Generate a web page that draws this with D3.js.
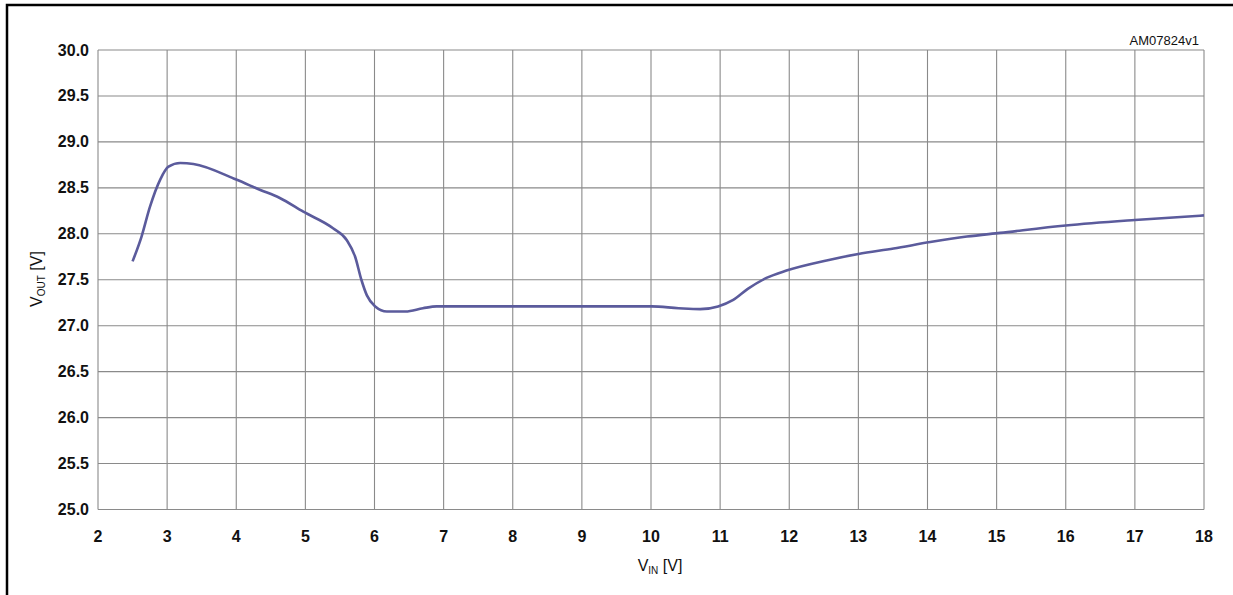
<!DOCTYPE html>
<html>
<head>
<meta charset="utf-8">
<script src="https://cdn.jsdelivr.net/npm/d3@7"></script>
<style>
  body { margin: 0; background: #fff; }
  svg { display: block; font-family: "Liberation Sans", Arial, Helvetica, sans-serif; }
</style>
</head>
<body>
<div class="vis"></div>
<script>
// V_IN [V] values
const vin = [2.5, 2.63, 2.75, 2.9, 3.02, 3.19, 3.38, 4.0, 4.34, 4.63, 4.97, 5.4, 5.6, 5.72, 5.81, 5.89, 6.01, 6.18, 6.45, 6.7, 6.9, 7.5, 8.5, 9.5, 10.01, 10.4, 10.71, 10.97, 11.19, 11.4, 11.67, 11.96, 12.54, 13.0, 13.51, 14.04, 14.57, 15.05, 16.0, 17.0, 18.0];
// V_OUT [V]
const vout = [27.7, 27.97, 28.29, 28.59, 28.73, 28.77, 28.76, 28.59, 28.48, 28.39, 28.24, 28.06, 27.93, 27.75, 27.5, 27.33, 27.21, 27.155, 27.155, 27.19, 27.21, 27.21, 27.21, 27.21, 27.21, 27.19, 27.18, 27.21, 27.28, 27.4, 27.52, 27.6, 27.71, 27.78, 27.84, 27.91, 27.97, 28.01, 28.09, 28.15, 28.2];

const xTicks = [2, 3, 4, 5, 6, 7, 8, 9, 10, 11, 12, 13, 14, 15, 16, 17, 18];
const yTicks = [25.0, 25.5, 26.0, 26.5, 27.0, 27.5, 28.0, 28.5, 29.0, 29.5, 30.0];

const W = 1233, H = 595;
const pLeft = 98, pRight = 1204, pTop = 50, pBottom = 509.5;

const svg = d3.select(".vis").append("svg")
    .attr("width", W).attr("height", H);

// frame
svg.append("path")
    .attr("d", `M7,${H + 5} V5 H${W + 5}`)
    .attr("fill", "none").attr("stroke", "#000").attr("stroke-width", 2.5);

const x = d3.scaleLinear().domain([2, 18]).range([pLeft, pRight]);
const y = d3.scaleLinear().domain([25, 30]).range([pBottom, pTop]);

// grid
svg.append("g").selectAll("line").data(xTicks).join("line")
    .attr("x1", d => x(d)).attr("x2", d => x(d))
    .attr("y1", pTop).attr("y2", pBottom)
    .attr("stroke", "#8a8a8a").attr("stroke-width", 1.1);
svg.append("g").selectAll("line").data(yTicks).join("line")
    .attr("x1", pLeft).attr("x2", pRight)
    .attr("y1", d => y(d)).attr("y2", d => y(d))
    .attr("stroke", "#8a8a8a").attr("stroke-width", 1.1);

// tick labels
svg.append("g").selectAll("text").data(yTicks).join("text")
    .attr("x", pLeft - 9).attr("y", d => y(d) + 5.5)
    .attr("text-anchor", "end")
    .style("font-size", "16px").style("font-weight", "600").attr("fill", "#111")
    .text(d => d.toFixed(1));
svg.append("g").selectAll("text").data(xTicks).join("text")
    .attr("x", d => x(d)).attr("y", pBottom + 32)
    .attr("text-anchor", "middle")
    .style("font-size", "16px").style("font-weight", "600").attr("fill", "#111")
    .text(d => d);

// axis titles
const xt = svg.append("text")
    .attr("x", 660).attr("y", 571)
    .attr("text-anchor", "middle")
    .style("font-size", "16px").attr("fill", "#111");
xt.append("tspan").text("V");
xt.append("tspan").attr("dy", 3).style("font-size", "10px").text("IN");
xt.append("tspan").attr("dy", -3).text(" [V]");

const yt = svg.append("text")
    .attr("transform", "translate(42, 279) rotate(-90)")
    .attr("text-anchor", "middle")
    .style("font-size", "16px").attr("fill", "#111");
yt.append("tspan").text("V");
yt.append("tspan").attr("dy", 3).style("font-size", "10px").text("OUT");
yt.append("tspan").attr("dy", -3).text(" [V]");

// figure code
svg.append("text")
    .attr("x", 1199).attr("y", 45)
    .attr("text-anchor", "end")
    .style("font-size", "13px").attr("fill", "#111")
    .text("AM07824v1");

// curve
const line = d3.line()
    .x((d, i) => x(vin[i]))
    .y(d => y(d))
    .curve(d3.curveMonotoneX);

svg.append("path")
    .datum(vout)
    .attr("d", line)
    .attr("fill", "none")
    .attr("stroke", "#5b5b9c")
    .attr("stroke-width", 2.6)
    .attr("stroke-linejoin", "round");
</script>
</body>
</html>
